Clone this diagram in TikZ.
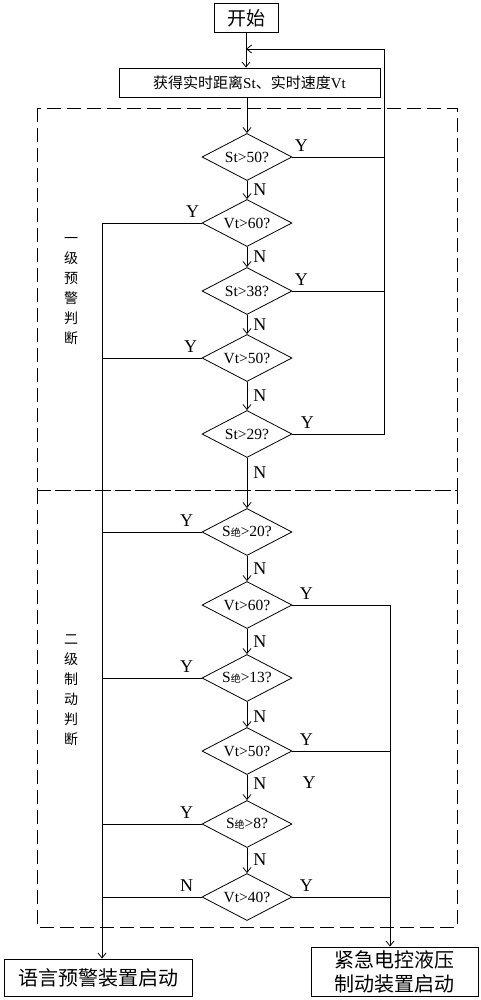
\documentclass[tikz,border=0pt]{standalone}
\usepackage{fontspec}
\setmainfont{Liberation Serif}
\newfontfamily\cjk{Noto Sans CJK SC}
\usetikzlibrary{shapes.geometric,arrows.meta}

\begin{document}
\begin{tikzpicture}[x=1pt,y=-1pt,line width=0.8pt,
    >={Straight Barb[length=5pt,width=8pt]},
    box/.style={draw, inner sep=0pt},
    test/.style={draw, diamond, aspect=1.9, minimum width=90pt, minimum height=47pt,
        inner sep=0pt, font=\fontsize{15.5}{15.5}\selectfont},
    yn/.style={font=\fontsize{18}{18}\selectfont, inner sep=2pt},
    yh/.style={yn, yshift=3pt},
    side/.style={font=\cjk\fontsize{14}{20}\selectfont, align=center},
    frame/.style={dash pattern=on 14pt off 6pt, line width=0.7pt}]
    \useasboundingbox (0,0) rectangle (480,1000);

    % start and measuring
    \node[box, minimum width=64pt, minimum height=29pt, font=\cjk\fontsize{19}{19}\selectfont] (start) at (246,18) {开始};
    \node[box, minimum width=261pt, minimum height=29pt, font=\fontsize{15}{15}\selectfont] (get) at (249.5,82.5)
        {{\cjk 获得实时距离}St{\cjk 、实时速度}Vt};

    % the two zones
    \draw[frame] (37,108) rectangle (457,490);
    \draw[frame] (37,490) rectangle (457,927);
    \node[side] (lv1) at (71,291) {一\\级\\预\\警\\判\\断};
    \node[side] (lv2) at (71,690) {二\\级\\制\\动\\判\\断};

    % checks
    \node[test] (d1) at (247,157) {St>50?};
    \node[test] (d2) at (247,223) {Vt>60?};
    \node[test] (d3) at (247,291) {St>38?};
    \node[test] (d4) at (247,358) {Vt>50?};
    \node[test] (d5) at (247,434) {St>29?};
    \node[test] (d6) at (247,532) {S{\cjk\fontsize{10}{10}\selectfont 绝}>20?};
    \node[test] (d7) at (247,605) {Vt>60?};
    \node[test] (d8) at (247,678) {S{\cjk\fontsize{10}{10}\selectfont 绝}>13?};
    \node[test] (d9) at (247,751) {Vt>50?};
    \node[test] (d10) at (247,824) {S{\cjk\fontsize{10}{10}\selectfont 绝}>8?};
    \node[test] (d11) at (247,897) {Vt>40?};

    % outcomes
    \node[box, minimum width=188pt, minimum height=37pt, font=\cjk\fontsize{20}{20}\selectfont] (voice) at (98,977.5) {语言预警装置启动};
    \node[box, minimum width=167pt, minimum height=49pt, align=center, font=\cjk\fontsize{20}{24}\selectfont] (brake) at (394.5,971.5)
        {紧急电控液压\\制动装置启动};

    \coordinate (loopR) at (384,49);
    \coordinate (leftL) at (102,223);
    \coordinate (rightR) at (390,605);

    % main chain
    \draw[->] (start.south) -- (start.south |- get.north);
    \draw[->] (get.south -| d1.north) -- (d1.north);
    \foreach \a/\b/\p in {d1/d2/0.5, d2/d3/0.5, d3/d4/0.5, d4/d5/0.5, d5/d6/0.3,
        d6/d7/0.5, d7/d8/0.5, d8/d9/0.6, d9/d10/0.35, d10/d11/0.45}
        \draw[->] (\a.south) -- node[yn, right, pos=\p, xshift=4pt] {N} (\b.north);

    % back to measuring
    \draw (d1.east) -- node[yh, above right, pos=0] {Y} (d1.east -| loopR);
    \draw (d3.east) -- node[yh, above right, pos=0] {Y} (d3.east -| loopR);
    \draw[->] (d5.east) -- node[yh, above right, pos=0, xshift=6pt] {Y} (d5.east -| loopR)
        -- (loopR) -- (loopR -| start.south);

    % voice warning
    \draw[->] (d2.west) -- node[yh, above left, pos=0] {Y} (leftL) -- (leftL |- voice.north);
    \draw (d4.west) -- node[yh, above left, pos=0, xshift=-2pt] {Y} (d4.west -| leftL);
    \draw (d6.west) -- node[yh, above left, pos=0, xshift=-6pt] {Y} (d6.west -| leftL);
    \draw (d8.west) -- node[yh, above left, pos=0, xshift=-6pt] {Y} (d8.west -| leftL);
    \draw (d10.west) -- node[yh, above left, pos=0, xshift=-6pt] {Y} (d10.west -| leftL);
    \draw (d11.west) -- node[yh, above left, pos=0, xshift=-6pt] {N} (d11.west -| leftL);

    % emergency braking
    \draw[->] (d7.east) -- node[yh, above right, pos=0, xshift=5pt] {Y} (rightR) -- (rightR |- brake.north);
    \draw (d9.east) -- node[yh, above right, pos=0, xshift=5pt] {Y} (d9.east -| rightR);
    \draw (d11.east) -- node[yh, above right, pos=0, xshift=5pt] {Y} (d11.east -| rightR);
    \node[yn] (ystray) at (309,783) {Y};
\end{tikzpicture}
\end{document}
